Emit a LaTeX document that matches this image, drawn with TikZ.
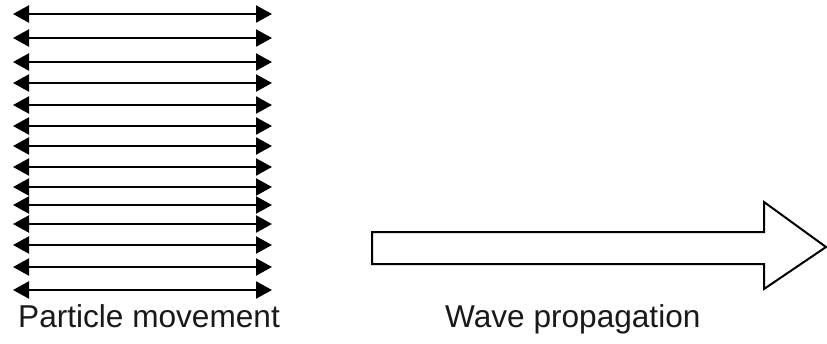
\documentclass[tikz,border=0pt]{standalone}
\usepackage{fontspec}
\setmainfont{Liberation Sans}
\usetikzlibrary{arrows.meta}
\begin{document}
\begin{tikzpicture}[x=1pt,y=-1pt,
  osc/.style={line width=2.2pt,{Triangle[length=16pt,width=17pt]}-{Triangle[length=16pt,width=17pt]}},
  bigarrow/.style={line width=2pt,draw=black,fill=white,line join=miter},
  lbl/.style={anchor=base west,inner sep=0pt,font=\fontsize{31.6}{36}\selectfont,text=black!90}]
\useasboundingbox (0,0) rectangle (827,343);
\foreach \y [count=\i] in {14,38,62,83,105,126,146,167,187,205,224,245,267,290}{
  \coordinate (l\i) at (13,\y);
  \coordinate (r\i) at (272,\y);
  \draw[osc] (l\i) -- (r\i);
}
\coordinate (a1) at (372,232);
\coordinate (a2) at (764,232);
\coordinate (a3) at (764,202);
\coordinate (a4) at (826,247);
\coordinate (a5) at (764,289);
\coordinate (a6) at (764,264);
\coordinate (a7) at (372,264);
\draw[bigarrow] (a1) -- (a2) -- (a3) -- (a4) -- (a5) -- (a6) -- (a7) -- cycle;
\node[lbl] (pm) at (18,327) {Particle movement};
\node[lbl] (wp) at (445,327) {Wave propagation};
\end{tikzpicture}
\end{document}
